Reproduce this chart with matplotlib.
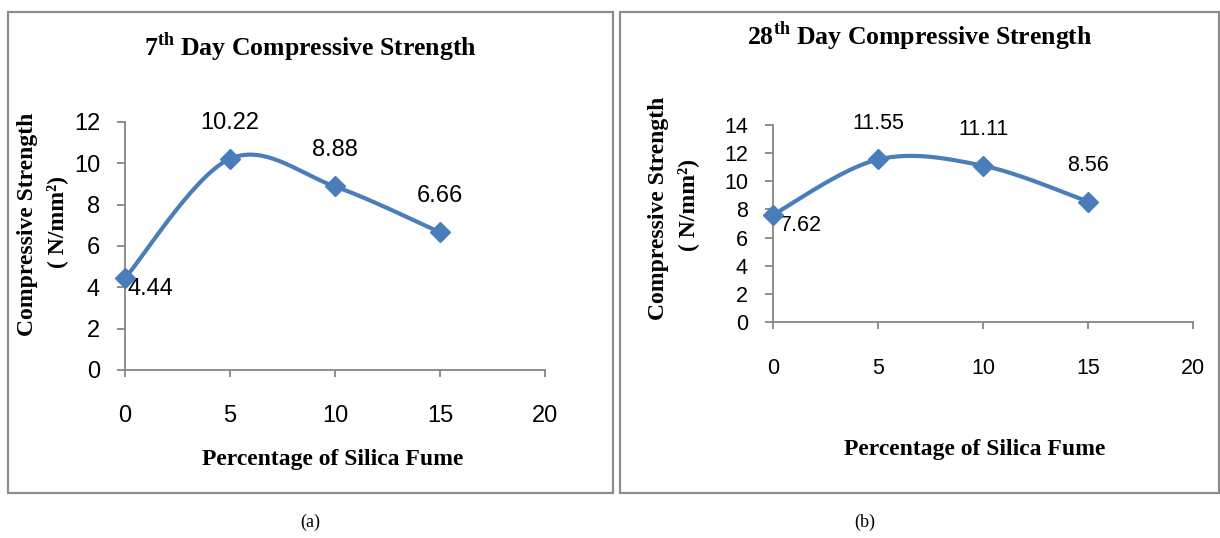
import matplotlib
matplotlib.use('Agg')
import matplotlib.pyplot as plt
from matplotlib.patches import Rectangle
import numpy as np

# Data
silica_pct = [0, 5, 10, 15]
strength_7day = [4.44, 10.22, 8.88, 6.66]
strength_28day = [7.62, 11.55, 11.11, 8.56]

plt.rcParams.update({
    'font.family': ['Liberation Sans', 'DejaVu Sans'],
    'mathtext.fontset': 'custom',
    'mathtext.rm': 'Liberation Serif',
    'mathtext.bf': 'Liberation Serif:bold',
})

LINE_BLUE = '#4a7ebb'
AXIS_GRAY = '#868686'
SERIF = 'Liberation Serif'

W, H = 1220, 538


def smooth_curve(xs, ys, n=60):
    """Excel-like smoothed line: Bezier segments with Catmull-Rom control points"""
    pts = np.column_stack([xs, ys]).astype(float)
    out = []
    for i in range(len(pts) - 1):
        p0 = pts[i - 1] if i > 0 else pts[i]
        p1, p2 = pts[i], pts[i + 1]
        p3 = pts[i + 2] if i + 2 < len(pts) else pts[i + 1]
        c1 = p1 + (p2 - p0) / 6
        c2 = p2 - (p3 - p1) / 6
        t = np.linspace(0, 1, n)[:, None]
        seg = ((1 - t) ** 3) * p1 + 3 * ((1 - t) ** 2) * t * c1 + 3 * (1 - t) * t ** 2 * c2 + t ** 3 * p2
        out.append(seg if i == 0 else seg[1:])
    seg = np.vstack(out)
    return seg[:, 0], seg[:, 1]


def px_box(left, top, right, bottom):
    """Convert pixel box to figure-fraction rect"""
    return [left / W, 1 - bottom / H, (right - left) / W, (bottom - top) / H]


def draw_panel(fig, box, values, ymax, fs, label_offsets, xpad):
    ax = fig.add_axes(px_box(*box))
    sx, sy = smooth_curve(silica_pct, values)
    ax.plot(sx, sy, color=LINE_BLUE, lw=3.0, solid_capstyle='round', zorder=3)
    ax.plot(silica_pct, values, ls='none', marker='D', ms=10.5,
            color=LINE_BLUE, markeredgecolor=LINE_BLUE, zorder=4, clip_on=False)

    for x, y, off in zip(silica_pct, values, label_offsets):
        ha = 'center' if off[0] == 0 else 'left'
        ax.annotate(f'{y:.2f}', (x, y), xytext=off, textcoords='offset points',
                    ha=ha, va='center', fontsize=fs, color='black')

    ax.set_xlim(0, 20)
    ax.set_ylim(0, ymax)
    ax.set_xticks(range(0, 21, 5))
    ax.set_yticks(range(0, ymax + 1, 2))
    for side in ['top', 'right']:
        ax.spines[side].set_visible(False)
    for side in ['left', 'bottom']:
        ax.spines[side].set_color(AXIS_GRAY)
        ax.spines[side].set_linewidth(1.3)
    ax.tick_params(axis='y', direction='out', length=6, width=1.3, color=AXIS_GRAY,
                   labelsize=fs, pad=12)
    ax.tick_params(axis='x', direction='out', length=5, width=1.3, color=AXIS_GRAY,
                   labelsize=fs, pad=xpad)
    ax.set_facecolor('none')
    return ax


fig = plt.figure(figsize=(W / 100, H / 100), dpi=100)

# panel frames
for left, right in [(8, 613), (620, 1219)]:
    fig.patches.append(Rectangle((left / W, 1 - 493 / H), (right - left) / W, (493 - 12) / H,
                                 transform=fig.transFigure, fill=False,
                                 edgecolor='#8c8c8c', lw=1.6))

# (a) 7th day
draw_panel(fig, (125, 122, 545, 370), strength_7day, 12, 17,
           [(1.5, -8), (0, 26), (0, 26), (0, 26)], 20)
fig.text(310 / W, 1 - 47 / H, r'7$^{\mathbf{th}}$ Day Compressive Strength',
         family=SERIF, weight='bold', fontsize=18.5, ha='center', va='center')
fig.text(333 / W, 1 - 460 / H, 'Percentage of Silica Fume',
         family=SERIF, weight='bold', fontsize=17, ha='center', va='center')
fig.text(28 / W, 1 - 224 / H, 'Compressive Strength', family=SERIF, weight='bold',
         fontsize=17, rotation=90, ha='center', va='center')
fig.text(57 / W, 1 - 222 / H, '( N/mm²)', family=SERIF, weight='bold',
         fontsize=17, rotation=90, ha='center', va='center')

# (b) 28th day
draw_panel(fig, (773, 125, 1193, 322), strength_28day, 14, 15.5,
           [(5, -8), (0, 26), (0, 26), (0, 26)], 21)
fig.text(920 / W, 1 - 36 / H, r'28$^{\mathbf{th}}$ Day Compressive Strength',
         family=SERIF, weight='bold', fontsize=18.5, ha='center', va='center')
fig.text(975 / W, 1 - 450 / H, 'Percentage of Silica Fume',
         family=SERIF, weight='bold', fontsize=17, ha='center', va='center')
fig.text(659 / W, 1 - 208 / H, 'Compressive Strength', family=SERIF, weight='bold',
         fontsize=17, rotation=90, ha='center', va='center')
fig.text(688 / W, 1 - 205 / H, '( N/mm²)', family=SERIF, weight='bold',
         fontsize=17, rotation=90, ha='center', va='center')

# sub-captions
fig.text(310 / W, 1 - 522 / H, '(a)', family=SERIF, fontsize=13, ha='center', va='center')
fig.text(865 / W, 1 - 522 / H, '(b)', family=SERIF, fontsize=13, ha='center', va='center')

fig.savefig('out.png', dpi=100, facecolor='white')
